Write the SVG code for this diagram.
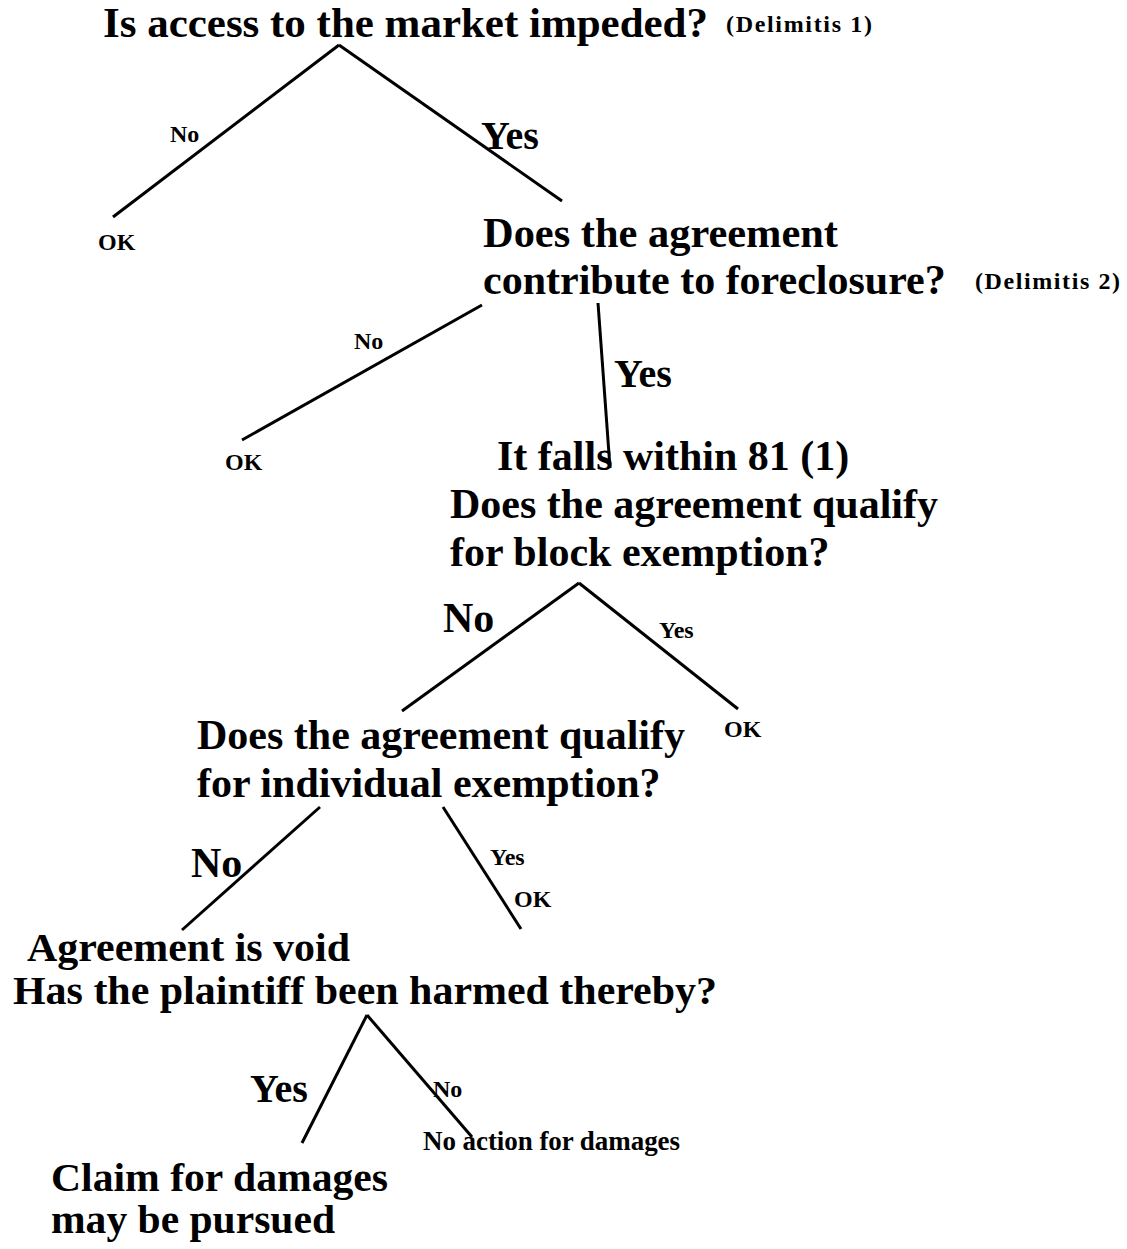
<svg xmlns="http://www.w3.org/2000/svg" width="1127" height="1249" viewBox="0 0 1127 1249">
<style>
text{font-family:"Liberation Serif","Times New Roman",serif;font-weight:bold;fill:#000}
.big{font-size:42px}
.tight{font-size:40px}
.lbl{font-size:40px}
.sm{font-size:24px}
.ref{font-size:24px}
.mid{font-size:27px}
line{stroke:#000;stroke-width:3;stroke-linecap:butt}
</style>
<rect width="1127" height="1249" fill="#fff"/>
<g id="connectors">
<line x1="339" y1="45" x2="113" y2="217"/>
<line x1="339" y1="45" x2="562" y2="201"/>
<line x1="482" y1="305" x2="242" y2="440"/>
<line x1="598" y1="303" x2="610" y2="468"/>
<line x1="579" y1="583" x2="402" y2="711"/>
<line x1="579" y1="583" x2="738" y2="709"/>
<line x1="320" y1="807" x2="182" y2="930"/>
<line x1="443" y1="807" x2="521" y2="929"/>
<line x1="367" y1="1015" x2="302" y2="1143"/>
<line x1="367" y1="1015" x2="472" y2="1137"/>
</g>
<g id="q1">
<text class="big" x="103" y="37" textLength="605" lengthAdjust="spacingAndGlyphs">Is access to the market impeded?</text>
<text class="ref" x="726" y="32" textLength="146" lengthAdjust="spacing">(Delimitis 1)</text>
</g>
<g id="label-q1-no"><text class="sm" x="170" y="142">No</text></g>
<g id="label-q1-yes"><text class="lbl" x="481" y="149">Yes</text></g>
<g id="ok1"><text class="sm" x="98" y="250">OK</text></g>
<g id="q2">
<text class="big" x="483" y="247" textLength="355" lengthAdjust="spacingAndGlyphs">Does the agreement</text>
<text class="big" x="483" y="294">contribute to foreclosure?</text>
<text class="ref" x="975" y="289" textLength="145" lengthAdjust="spacing">(Delimitis 2)</text>
</g>
<g id="label-q2-no"><text class="sm" x="354" y="349">No</text></g>
<g id="label-q2-yes"><text class="lbl" x="614" y="387">Yes</text></g>
<g id="ok2"><text class="sm" x="225" y="470">OK</text></g>
<g id="q3">
<text class="big" x="497" y="470">It falls within 81 (1)</text>
<text class="big" x="450" y="518">Does the agreement qualify</text>
<text class="big" x="450" y="566">for block exemption?</text>
</g>
<g id="label-q3-no"><text class="big" x="443" y="632">No</text></g>
<g id="label-q3-yes"><text class="sm" x="659" y="638">Yes</text></g>
<g id="ok3"><text class="sm" x="724" y="737">OK</text></g>
<g id="q4">
<text class="big" x="197" y="749">Does the agreement qualify</text>
<text class="big" x="197" y="797">for individual exemption?</text>
</g>
<g id="label-q4-no"><text class="big" x="191" y="877">No</text></g>
<g id="label-q4-yes"><text class="sm" x="490" y="865">Yes</text></g>
<g id="ok4"><text class="sm" x="514" y="907">OK</text></g>
<g id="q5">
<text class="tight" x="27" y="961" textLength="323" lengthAdjust="spacingAndGlyphs">Agreement is void</text>
<text class="tight" x="13" y="1004" textLength="704" lengthAdjust="spacingAndGlyphs">Has the plaintiff been harmed thereby?</text>
</g>
<g id="label-q5-yes"><text class="lbl" x="250" y="1102">Yes</text></g>
<g id="label-q5-no"><text class="sm" x="433" y="1097">No</text></g>
<g id="claim">
<text class="tight" x="51" y="1191" textLength="337" lengthAdjust="spacingAndGlyphs">Claim for damages</text>
<text class="tight" x="51" y="1233" textLength="284" lengthAdjust="spacingAndGlyphs">may be pursued</text>
</g>
<g id="noaction"><text class="mid" x="423" y="1150" textLength="257" lengthAdjust="spacing">No action for damages</text></g>
</svg>
